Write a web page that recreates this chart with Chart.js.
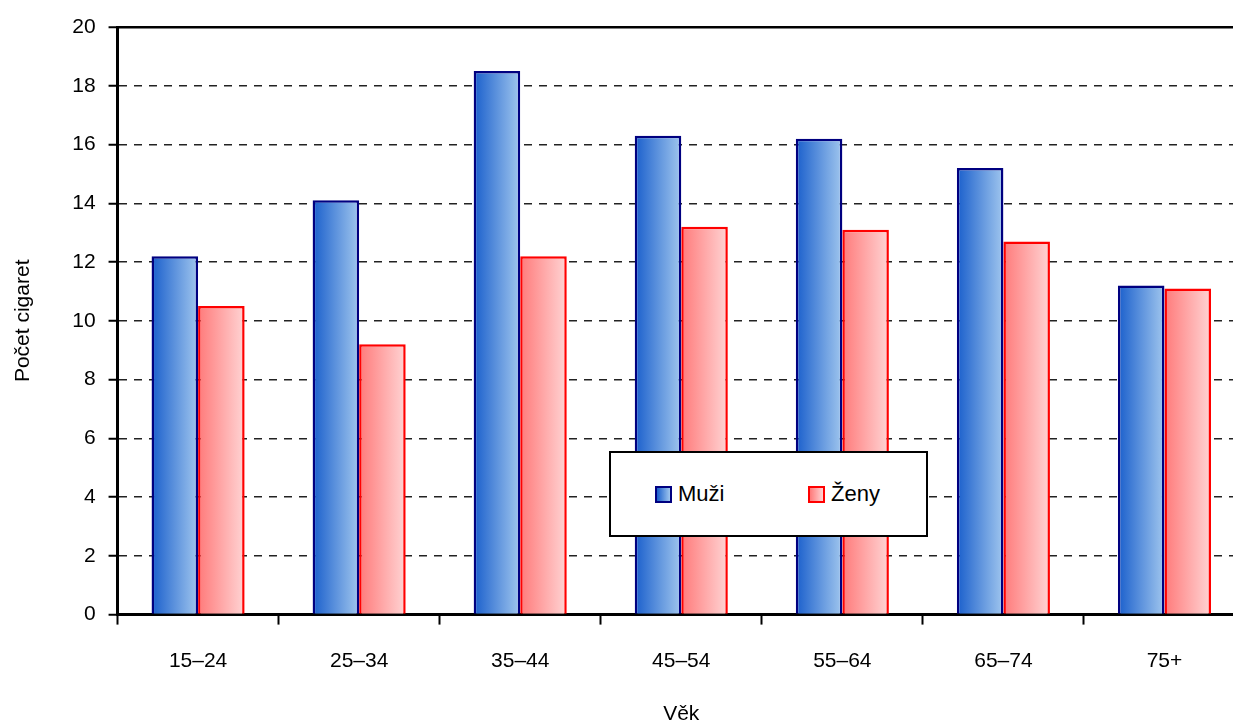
<!DOCTYPE html>
<html>
<head>
<meta charset="utf-8">
<script src="https://cdn.jsdelivr.net/npm/chart.js@4.4.1/dist/chart.umd.min.js"></script>
<style>
  html, body { margin: 0; padding: 0; background: #fff; }
  #wrap { position: relative; width: 1233px; height: 727px; overflow: hidden; }
  #box { position: absolute; left: 0; top: 0; width: 1245px; height: 727px; }
  #legend {
    position: absolute; left: 609px; top: 451px; width: 315px; height: 82px;
    border: 2px solid #000; background: #fff;
    font-family: 'Liberation Sans', Arial, sans-serif;
    font-size: 22px; color: #000;
  }
  .item { position: absolute; top: 28px; display: flex; align-items: center; }
  .sw { width: 13px; height: 13px; margin-right: 6px; border: 2px solid; }
</style>
</head>
<body>
<div id="wrap">
  <div id="box"><canvas id="chart" width="1245" height="727"></canvas></div>
  <div id="legend">
    <div class="item" style="left:44px"><span class="sw" style="border-color:#000080;background:linear-gradient(to right,#1a5fcc,#a0c6ee)"></span>Muži</div>
    <div class="item" style="left:197px"><span class="sw" style="border-color:#ff0000;background:linear-gradient(to right,#ff7a7a,#ffd4d4)"></span>Ženy</div>
  </div>
</div>
<script>
const ageGroups = ["15–24", "25–34", "35–44", "45–54", "55–64", "65–74", "75+"];
const men = [12.2, 14.1, 18.5, 16.3, 16.2, 15.2, 11.2];
const women = [10.5, 9.2, 12.2, 13.2, 13.1, 12.7, 11.1];
const yTicks = [0, 2, 4, 6, 8, 10, 12, 14, 16, 18, 20];

const FONT = "'Liberation Sans', Arial, sans-serif";

const gradStops = [
    ["#1a5fcc", "#a0c6ee"],
    ["#ff7a7a", "#ffd4d4"]
];

// horizontal gradient inside every bar
const barGradient = {
    id: "barGradient",
    beforeDatasetsDraw(chart) {
        const ctx = chart.ctx;
        chart.data.datasets.forEach((ds, di) => {
            const meta = chart.getDatasetMeta(di);
            meta.data.forEach(el => {
                const p = el.getProps(["x", "width"], true);
                const g = ctx.createLinearGradient(p.x - p.width / 2, 0, p.x + p.width / 2, 0);
                g.addColorStop(0, gradStops[di][0]);
                g.addColorStop(1, gradStops[di][1]);
                el.options = Object.assign({}, el.options, { backgroundColor: g });
            });
        });
    }
};

new Chart(document.getElementById("chart"), {
    type: "bar",
    data: {
        labels: ageGroups,
        datasets: [{
            label: "Muži",
            data: men,
            backgroundColor: gradStops[0][1],
            borderColor: "#000080",
            borderWidth: 2.5,
            borderSkipped: "bottom"
        }, {
            label: "Ženy",
            data: women,
            backgroundColor: gradStops[1][1],
            borderColor: "#ff0000",
            borderWidth: 2.5,
            borderSkipped: "bottom"
        }]
    },
    plugins: [barGradient],
    options: {
        responsive: false,
        animation: false,
        devicePixelRatio: 1,
        categoryPercentage: 0.578,
        barPercentage: 1,
        layout: { padding: { top: 27, left: 11, right: 0, bottom: 0 } },
        plugins: {
            legend: { display: false },
            tooltip: { enabled: false }
        },
        scales: {
            x: {
                grid: {
                    offset: true,
                    drawOnChartArea: false,
                    tickLength: 10,
                    tickWidth: 2,
                    tickColor: "#000"
                },
                border: { color: "#000", width: 3 },
                ticks: {
                    color: "#000",
                    padding: 24,
                    font: { family: FONT, size: 21 }
                },
                title: {
                    display: true,
                    text: "Věk",
                    color: "#000",
                    padding: { top: 4, bottom: 0 },
                    font: { family: FONT, size: 21 }
                }
            },
            y: {
                min: 0,
                max: 20,
                afterBuildTicks(axis) {
                    axis.ticks = yTicks.map(v => ({ value: v }));
                },
                grid: {
                    color: c => (c.tick && c.tick.value === 20) ? "#000" : "#222",
                    lineWidth: c => (c.tick && c.tick.value === 20) ? 2.5 : 1.5,
                    tickLength: 9,
                    tickWidth: 2,
                    tickColor: "#000"
                },
                border: {
                    color: "#000",
                    width: 3,
                    dash: c => (c.tick && c.tick.value === 20) ? [] : [8, 7]
                },
                ticks: {
                    color: "#000",
                    padding: 13,
                    font: { family: FONT, size: 21 }
                },
                title: {
                    display: true,
                    text: "Počet cigaret",
                    color: "#000",
                    padding: { top: 0, bottom: 23 },
                    font: { family: FONT, size: 21 }
                }
            }
        }
    }
});
</script>
</body>
</html>
